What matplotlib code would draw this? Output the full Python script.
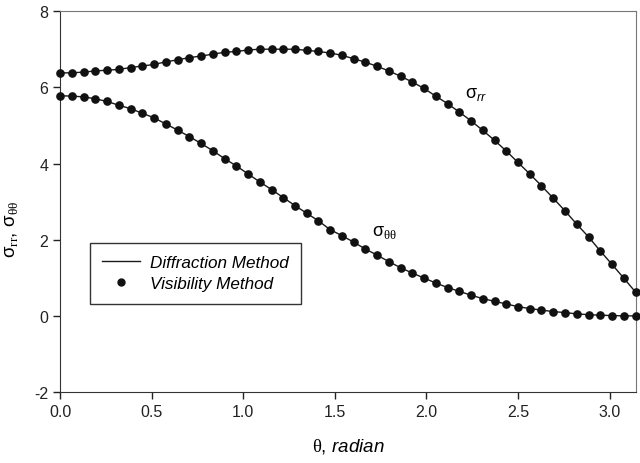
import numpy as np
import matplotlib
matplotlib.use("Agg")
import matplotlib.pyplot as plt
from matplotlib.lines import Line2D

plt.rcParams["font.family"] = ["Liberation Sans", "DejaVu Sans"]
plt.rcParams["mathtext.fontset"] = "custom"
plt.rcParams["mathtext.rm"] = "Liberation Serif"
plt.rcParams["mathtext.it"] = "Liberation Sans:italic"
plt.rcParams["axes.unicode_minus"] = False

# theta grid (radian), 50 samples over [0, pi]
theta = [0.000, 0.064, 0.128, 0.192, 0.256, 0.321, 0.385, 0.449, 0.513, 0.577,
         0.641, 0.705, 0.769, 0.833, 0.898, 0.962, 1.026, 1.090, 1.154, 1.218,
         1.282, 1.346, 1.410, 1.474, 1.539, 1.603, 1.667, 1.731, 1.795, 1.859,
         1.923, 1.987, 2.051, 2.116, 2.180, 2.244, 2.308, 2.372, 2.436, 2.500,
         2.564, 2.628, 2.693, 2.757, 2.821, 2.885, 2.949, 3.013, 3.077, 3.142]

sigma_rr = [6.38, 6.38, 6.40, 6.43, 6.45, 6.47, 6.52, 6.56, 6.60, 6.67,
            6.72, 6.78, 6.82, 6.87, 6.92, 6.94, 6.98, 7.00, 7.00, 7.00,
            7.00, 6.97, 6.94, 6.90, 6.84, 6.75, 6.66, 6.55, 6.43, 6.29,
            6.14, 5.97, 5.77, 5.57, 5.35, 5.12, 4.87, 4.61, 4.33, 4.03,
            3.73, 3.42, 3.09, 2.76, 2.41, 2.08, 1.71, 1.36, 1.00, 0.63]

sigma_tt = [5.78, 5.77, 5.75, 5.70, 5.63, 5.53, 5.44, 5.32, 5.20, 5.04,
            4.88, 4.71, 4.53, 4.34, 4.13, 3.94, 3.73, 3.52, 3.32, 3.11,
            2.90, 2.70, 2.50, 2.27, 2.11, 1.94, 1.76, 1.60, 1.43, 1.27,
            1.13, 1.00, 0.87, 0.75, 0.65, 0.55, 0.46, 0.39, 0.32, 0.25,
            0.20, 0.16, 0.12, 0.095, 0.06, 0.04, 0.025, 0.017, 0.008, 0.008]

fig = plt.figure(figsize=(6.4, 4.64), dpi=100)
ax = fig.add_axes([0.094, 0.152, 0.899, 0.822])

for y in (sigma_rr, sigma_tt):
    ax.plot(theta, y, color="#1a1a1a", lw=1.0, zorder=2)
    ax.plot(theta, y, "o", color="#111111", ms=5.2, zorder=3, clip_on=False)

ax.set_xlim(0, np.pi)
ax.set_ylim(-2, 8)
ax.set_xticks([0.0, 0.5, 1.0, 1.5, 2.0, 2.5, 3.0])
ax.set_xticklabels(["0.0", "0.5", "1.0", "1.5", "2.0", "2.5", "3.0"])
ax.set_yticks([-2, 0, 2, 4, 6, 8])
ax.tick_params(direction="out", length=5, width=1, labelsize=11.5, colors="#222222")
for s in ("top", "right"):
    ax.spines[s].set_color("#777777")
for s in ("left", "bottom"):
    ax.spines[s].set_color("#333333")

ax.text(2.21, 5.75, r"σ$_{\it rr}$", fontsize=13)
ax.text(1.70, 2.14, r"σ$_{\rm θθ}$", fontsize=13)

ax.set_ylabel(r"σ$_{\rm rr}$, σ$_{\rm θθ}$", fontsize=13.5)
ax.yaxis.set_label_coords(-0.07, 0.43)
ax.set_xlabel(r"$\rm θ$, $\it radian$", fontsize=13.5, labelpad=12)

handles = [Line2D([], [], color="#1a1a1a", lw=1.0),
           Line2D([], [], ls="none", marker="o", color="#111111", ms=5)]
leg = ax.legend(handles, ["Diffraction Method", "Visibility Method"],
                loc="upper left", bbox_to_anchor=(0.052, 0.392), borderaxespad=0,
                fancybox=False, edgecolor="#333333", framealpha=1,
                prop={"style": "italic", "size": 12.3}, borderpad=0.72,
                handlelength=2.2, handletextpad=0.6, labelspacing=0.35)
leg.get_frame().set_linewidth(1.0)

fig.savefig("out.png", dpi=100)
